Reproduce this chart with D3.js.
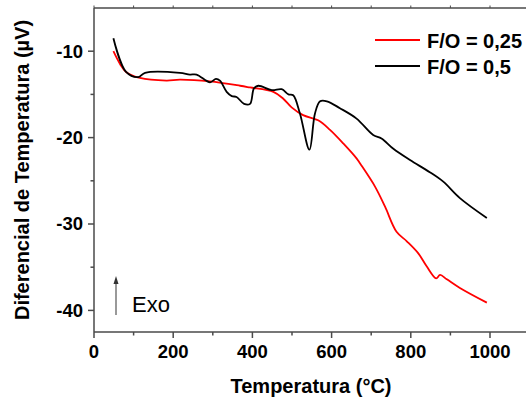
<!DOCTYPE html>
<html lang="pt">
<head>
<meta charset="utf-8">
<title>Diferencial de Temperatura</title>
<script src="https://d3js.org/d3.v7.min.js"></script>
<style>
  html, body { margin: 0; padding: 0; background: #fff; }
  svg { display: block; font-family: "Liberation Sans", Arial, sans-serif; }
  .tick-label { font-size: 18.5px; font-weight: bold; fill: #000; }
  .axis-title { font-size: 20px; font-weight: bold; fill: #000; }
  .legend { font-size: 20px; font-weight: bold; fill: #000; }
</style>
</head>
<body>
<script>
// F/O = 0,25 (red)
const tempA = [49, 66, 81, 116, 183, 217, 293, 369, 394, 453, 478, 499, 528, 566, 596, 630, 663, 672, 710, 735, 764, 790, 819, 840, 864, 874, 891, 924, 992];
const valA  = [-10.0, -11.5, -12.4, -13.1, -13.4, -13.3, -13.5, -14.0, -14.2, -14.7, -15.5, -16.5, -17.4, -18.0, -19.1, -20.7, -22.4, -23.0, -25.7, -28.0, -30.9, -32.0, -33.4, -34.9, -36.3, -35.9, -36.4, -37.4, -39.1];
// F/O = 0,5 (black)
const tempB = [49, 81, 112, 129, 217, 242, 259, 293, 308, 318, 335, 348, 360, 379, 394, 404, 415, 449, 474, 491, 503, 520, 544, 558, 571, 588, 621, 663, 705, 726, 756, 798, 848, 882, 924, 992];
const valB  = [-8.5, -12.4, -13.0, -12.5, -12.5, -12.7, -12.7, -13.6, -13.2, -13.4, -14.7, -15.2, -15.3, -16.1, -16.1, -14.3, -14.0, -14.5, -14.4, -15.0, -15.1, -17.2, -21.4, -17.2, -15.8, -15.8, -16.6, -17.8, -19.7, -20.1, -21.3, -22.6, -24.0, -25.1, -27.0, -29.3];

const seriesNames = ["F/O = 0,25", "F/O = 0,5"];
const seriesColors = ["#ff0000", "#000000"];
const xTicks = [0, 200, 400, 600, 800, 1000];
const xMinor = [100, 300, 500, 700, 900];
const yTicks = [-10, -20, -30, -40];
const yMinor = [-15, -25, -35];

const w = 526, h = 400;
const axisColor = "#4a4a4a";

const x = d3.scaleLinear().domain([0, 1100]).range([94, 529.6]);
const y = d3.scaleLinear().domain([-42.5, -5]).range([332, 8]);

const svg = d3.select("body").append("svg")
  .attr("width", w)
  .attr("height", h);

// axis lines
svg.append("line")
  .attr("x1", x(0)).attr("x2", w)
  .attr("y1", y(-42.5)).attr("y2", y(-42.5))
  .attr("stroke", axisColor).attr("stroke-width", 1.5);
svg.append("line")
  .attr("x1", x(0)).attr("x2", w)
  .attr("y1", y(-5)).attr("y2", y(-5))
  .attr("stroke", axisColor).attr("stroke-width", 1.5);
svg.append("line")
  .attr("x1", x(0)).attr("x2", x(0))
  .attr("y1", y(-5)).attr("y2", y(-42.5))
  .attr("stroke", axisColor).attr("stroke-width", 1.5);

// x ticks (bottom, outward) + top ticks
svg.selectAll("line.xt").data(xTicks).enter().append("line")
  .attr("x1", d => x(d)).attr("x2", d => x(d))
  .attr("y1", y(-42.5)).attr("y2", y(-42.5) + 6)
  .attr("stroke", axisColor).attr("stroke-width", 1.5);
svg.selectAll("line.xm").data(xMinor).enter().append("line")
  .attr("x1", d => x(d)).attr("x2", d => x(d))
  .attr("y1", y(-42.5)).attr("y2", y(-42.5) + 3.5)
  .attr("stroke", axisColor).attr("stroke-width", 1.5);
svg.selectAll("line.xtop").data(xTicks.concat(xMinor)).enter().append("line")
  .attr("x1", d => x(d)).attr("x2", d => x(d))
  .attr("y1", y(-5)).attr("y2", y(-5) - 2.5)
  .attr("stroke", axisColor).attr("stroke-width", 1);

svg.selectAll("text.xl").data(xTicks).enter().append("text")
  .attr("class", "tick-label")
  .attr("x", d => x(d)).attr("y", 358)
  .attr("text-anchor", "middle")
  .text(d => d);

// y ticks (left, outward)
svg.selectAll("line.yt").data(yTicks).enter().append("line")
  .attr("x1", x(0) - 6).attr("x2", x(0))
  .attr("y1", d => y(d)).attr("y2", d => y(d))
  .attr("stroke", axisColor).attr("stroke-width", 1.5);
svg.selectAll("line.ym").data(yMinor).enter().append("line")
  .attr("x1", x(0) - 3.5).attr("x2", x(0))
  .attr("y1", d => y(d)).attr("y2", d => y(d))
  .attr("stroke", axisColor).attr("stroke-width", 1.5);

svg.selectAll("text.yl").data(yTicks).enter().append("text")
  .attr("class", "tick-label")
  .attr("x", 83).attr("y", d => y(d))
  .attr("dy", "0.35em")
  .attr("text-anchor", "end")
  .text(d => "-" + Math.abs(d));

// titles
svg.append("text")
  .attr("class", "axis-title")
  .attr("x", 311).attr("y", 393)
  .attr("text-anchor", "middle")
  .text("Temperatura (°C)");
svg.append("text")
  .attr("class", "axis-title")
  .attr("transform", "translate(29,170) rotate(-90)")
  .attr("text-anchor", "middle")
  .text("Diferencial de Temperatura (µV)");

// curves
const line = d3.line()
  .x(d => x(d[0]))
  .y(d => y(d[1]))
  .curve(d3.curveCatmullRom.alpha(0.5));

const series = [d3.zip(tempA, valA), d3.zip(tempB, valB)];
svg.selectAll("path.curve").data(series).enter().append("path")
  .attr("fill", "none")
  .attr("stroke", (d, i) => seriesColors[i])
  .attr("stroke-width", 1.8)
  .attr("stroke-linejoin", "round")
  .attr("d", line);

// legend
const legend = svg.selectAll("g.leg").data(seriesNames).enter().append("g")
  .attr("transform", (d, i) => "translate(0," + (40 + i * 26) + ")");
legend.append("line")
  .attr("x1", 375).attr("x2", 420)
  .attr("stroke", (d, i) => seriesColors[i])
  .attr("stroke-width", 1.8);
legend.append("text")
  .attr("class", "legend")
  .attr("x", 427).attr("y", 8)
  .text(d => d);

// Exo arrow
svg.append("line")
  .attr("x1", 116).attr("x2", 116)
  .attr("y1", 315).attr("y2", 283)
  .attr("stroke", "#555").attr("stroke-width", 1.2);
svg.append("path")
  .attr("d", "M113.5,284 L116,276 L118.5,284 Z")
  .attr("fill", "#333");
svg.append("text")
  .attr("x", 132).attr("y", 311.5)
  .style("font-size", "22px")
  .text("Exo");
</script>
</body>
</html>
